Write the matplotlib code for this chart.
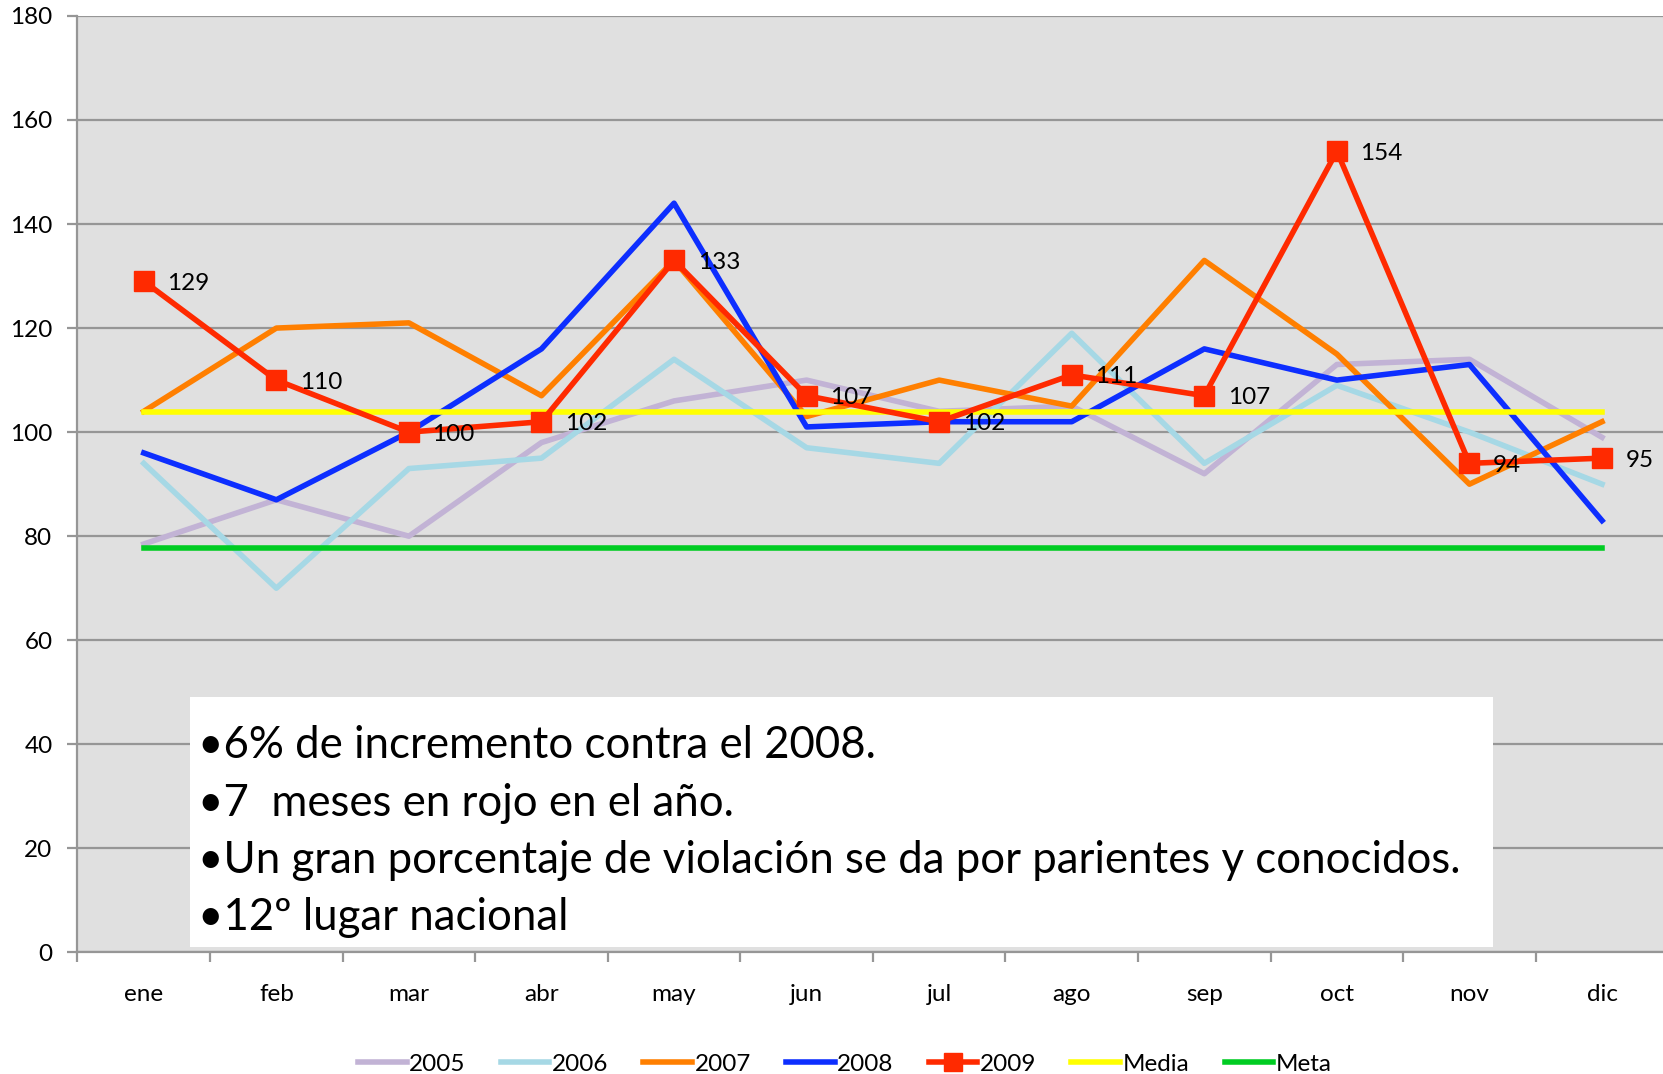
import numpy as np
import matplotlib
matplotlib.use("Agg")
import matplotlib.pyplot as plt
from matplotlib.ticker import FixedLocator

plt.rcParams["font.family"] = ["Lato", "DejaVu Sans"]

# ── datos ──────────────────────────────────────
meses = ["ene", "feb", "mar", "abr", "may", "jun",
         "jul", "ago", "sep", "oct", "nov", "dic"]

v2005 = [78.5, 87, 80, 98, 106, 110, 104, 105, 92, 113, 114, 99]
v2006 = [94, 70, 93, 95, 114, 97, 94, 119, 94, 109, 100, 90]
v2007 = [104, 120, 121, 107, 133, 103, 110, 105, 133, 115, 90, 102]
v2008 = [96, 87, 100, 116, 144, 101, 102, 102, 116, 110, 113, 83]
v2009 = [129, 110, 100, 102, 133, 107, 102, 111, 107, 154, 94, 95]
media = [103.8] * 12
meta = [77.8] * 12

notas = ["•6% de incremento contra el 2008.",
         "•7  meses en rojo en el año.",
         "•Un gran porcentaje de violación se da por parientes y conocidos.",
         "•12º lugar nacional"]

# ── figura ─────────────────────────────────────
fig = plt.figure(figsize=(16.63, 10.74), dpi=100)
ax = fig.add_axes([0.0466, 0.1132, 0.9534, 0.872])
ax.set_facecolor("#E0E0E0")

x = np.arange(len(meses))
lw = 4.0
ax.plot(x, v2005, color="#C2B3D5", lw=lw, label="2005", zorder=3)
ax.plot(x, v2006, color="#A6D8E5", lw=lw, label="2006", zorder=3)
ax.plot(x, v2007, color="#FF7F00", lw=lw, label="2007", zorder=4)
ax.plot(x, v2008, color="#0D2EFF", lw=lw, label="2008", zorder=5)
ax.plot(x, v2009, color="#FF2A00", lw=lw, marker="s", markersize=14,
        label="2009", zorder=7)
ax.plot(x, media, color="#FFFF00", lw=lw, label="Media", zorder=6)
ax.plot(x, meta, color="#00CC22", lw=lw, label="Meta", zorder=6)

for xi, v in zip(x, v2009):
    ax.annotate(f"{v:g}", (xi, v), xytext=(17, -1.5), textcoords="offset points",
                ha="left", va="center", fontsize=17.5, color="black", zorder=8)

ax.set_xlim(-0.5, 11.46)
ax.set_ylim(0, 180)
ax.set_yticks(np.arange(0, 181, 20))
ax.yaxis.grid(True, color="#969696", lw=1.6)
ax.set_axisbelow(True)

ax.set_xticks(x)
ax.set_xticklabels(meses)
ax.xaxis.set_minor_locator(FixedLocator(np.arange(-0.5, 12, 1)))
ax.tick_params(axis="x", which="major", length=0, pad=23, labelsize=17.5)
ax.tick_params(axis="x", which="minor", length=7, width=1.6,
               color="#969696", direction="out")
ax.tick_params(axis="y", length=7, width=1.6, color="#969696",
               pad=11, labelsize=17.5)

for s in ["top", "right"]:
    ax.spines[s].set_visible(False)
for s in ["left", "bottom"]:
    ax.spines[s].set_color("#969696")
    ax.spines[s].set_linewidth(1.6)

# cuadro de notas
ax_txt = fig.add_axes([190 / 1663, 1 - 947 / 1074, 1303 / 1663, 250 / 1074])
ax_txt.set_xlim(0, 1)
ax_txt.set_ylim(0, 1)
ax_txt.set_facecolor("white")
ax_txt.set_xticks([])
ax_txt.set_yticks([])
for s in ax_txt.spines.values():
    s.set_visible(False)
for i, t in enumerate(notas):
    ax_txt.text(0.006, 0.805 - i * 0.229, t, fontsize=31.5, ha="left",
                va="center", color="black")

# leyenda
fig.legend(loc="center", bbox_to_anchor=(0.508, 1 - 1064 / 1074), ncol=7,
           frameon=False, fontsize=17.5, handlelength=2.0, handletextpad=0.1,
           columnspacing=1.45, markerscale=0.9)

fig.savefig("out.png", dpi=100)
